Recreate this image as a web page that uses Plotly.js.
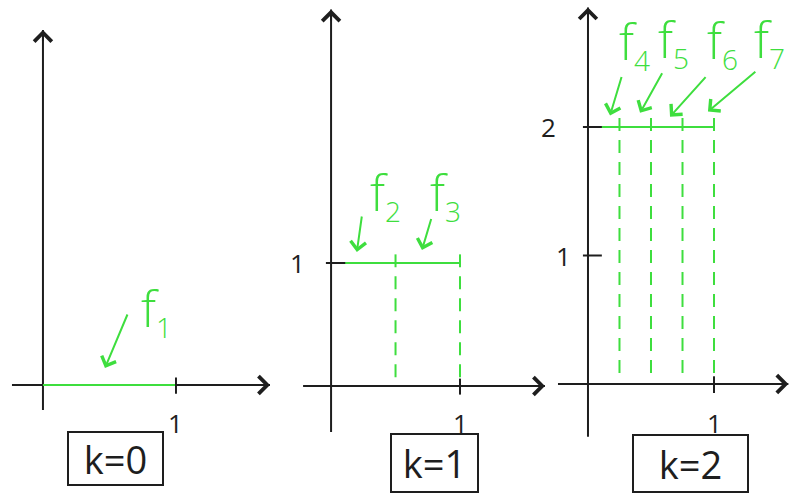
<!DOCTYPE html>
<html>
<head>
<meta charset="utf-8">
<script src="https://cdn.plot.ly/plotly-3.0.1.min.js"></script>
<style>html,body{margin:0;padding:0;background:#fff}#chart{width:790px;height:493px}</style>
</head>
<body>
<div id="chart"></div>
<script>
// step functions f1..f7 on [0,1], one panel per level k
const levels = ['k=0', 'k=1', 'k=2'];
const heights = [0, 1, 2];
const breaks0 = [0, 1];
const breaks1 = [0, 0.5, 1];
const breaks2 = [0, 0.25, 0.5, 0.75, 1];
const fnIndex0 = [1];
const fnIndex1 = [2, 3];
const fnIndex2 = [4, 5, 6, 7];
const yTicks0 = [];
const yTicks1 = [1];
const yTicks2 = [1, 2];
const xTicks = [1];

const ink = '#1e1e1e';
const green = '#3ede3e';
const hand = '"Open Sans", "DejaVu Sans", sans-serif';

// layout of each panel (domains, ranges, where labels sit) - tuned by eye
const panels = [
  { breaks: breaks0, h: heights[0], fns: fnIndex0, yticks: yTicks0, name: levels[0],
    xdom: [0, 0.3544], xr: [-0.323, 1.782], yr: [-0.864, 3.08],
    yAxis: [-0.2, 2.84], xAxis: [-0.233, 1.707], ylabX: [],
    lab: [[0.85, 0.6]], tail: [[0.64, 0.576]], head: [[0.466, 0.136]],
    box: [0.549, -0.584, 93, 51] },
  { breaks: breaks1, h: heights[1], fns: fnIndex1, yticks: yTicks1, name: levels[1],
    xdom: [0.3608, 0.6962], xr: [-0.357, 1.698], yr: [-0.870, 3.138],
    yAxis: [-0.374, 3.06], xAxis: [-0.217, 1.659], ylabX: [-0.264],
    lab: [[0.42, 1.56], [0.89, 1.56]], tail: [[0.24, 1.39], [0.78, 1.37]],
    head: [[0.2, 1.09], [0.705, 1.106]],
    box: [0.80, -0.626, 85, 56] },
  { breaks: breaks2, h: heights[2], fns: fnIndex2, yticks: yTicks2, name: levels[2],
    xdom: [0.6835, 1], xr: [-0.381, 1.603], yr: [-0.848, 2.988],
    yAxis: [-0.41, 2.93], xAxis: [-0.238, 1.59], ylabX: [-0.198, -0.317],
    lab: [[0.37, 2.65], [0.68, 2.67], [1.07, 2.66], [1.44, 2.67]],
    tail: [[0.27, 2.40], [0.595, 2.43], [0.944, 2.40], [1.34, 2.44]],
    head: [[0.175, 2.09], [0.413, 2.11], [0.651, 2.08], [0.952, 2.12]],
    box: [0.817, -0.62, 113, 55] }
];

const traces = [];
const shapes = [];
const annotations = [];
const layout = {
  width: 790, height: 493,
  margin: {l: 0, r: 0, t: 0, b: 0},
  paper_bgcolor: '#fff', plot_bgcolor: 'rgba(0,0,0,0)',
  showlegend: false
};

function arrow(xa, ya, from, to, color, size) {
  return {xref: xa, yref: ya, axref: xa, ayref: ya,
    x: to[0], y: to[1], ax: from[0], ay: from[1], text: '',
    showarrow: true, arrowhead: 4, arrowsize: size, arrowwidth: 2, arrowcolor: color};
}

panels.forEach((p, i) => {
  const n = i === 0 ? '' : String(i + 1);
  const xa = 'x' + n, ya = 'y' + n;
  const hidden = {showgrid: false, zeroline: false, showticklabels: false, showline: false, ticks: ''};
  layout['xaxis' + n] = Object.assign({domain: p.xdom, range: p.xr, anchor: ya, fixedrange: true}, hidden);
  layout['yaxis' + n] = Object.assign({domain: [0, 1], range: p.yr, anchor: xa, fixedrange: true}, hidden);

  // hand-drawn axes
  shapes.push({type: 'line', xref: xa, yref: ya, layer: 'below', x0: p.xAxis[0], x1: p.xAxis[1], y0: 0, y1: 0, line: {color: ink, width: 2}});
  shapes.push({type: 'line', xref: xa, yref: ya, layer: 'below', x0: 0, x1: 0, y0: p.yAxis[0], y1: p.yAxis[1], line: {color: ink, width: 2}});
  annotations.push(arrow(xa, ya, [p.xAxis[1] - 0.1, 0], [p.xAxis[1], 0], ink, 1.7));
  annotations.push(arrow(xa, ya, [0, p.yAxis[1] - 0.1], [0, p.yAxis[1]], ink, 1.7));

  xTicks.forEach(t => {
    shapes.push({type: 'line', xref: xa, yref: ya, x0: t, x1: t, y0: -0.07, y1: 0.06, line: {color: ink, width: 2}});
    annotations.push({xref: xa, yref: ya, x: t, y: -0.3, text: String(t), showarrow: false,
      font: {family: hand, size: 26, color: ink}});
  });
  p.yticks.forEach((t, j) => {
    shapes.push({type: 'line', xref: xa, yref: ya, x0: -0.04, x1: 0.11, y0: t, y1: t, line: {color: ink, width: 2}});
    annotations.push({xref: xa, yref: ya, x: p.ylabX[j], y: t, text: String(t), showarrow: false,
      font: {family: hand, size: 26, color: ink}});
  });

  // the step function itself
  traces.push({x: p.breaks, y: p.breaks.map(() => p.h), xaxis: xa, yaxis: ya,
    mode: 'lines', line: {color: green, width: 2}, hoverinfo: 'skip'});
  if (p.h > 0) {
    p.breaks.slice(1).forEach(b => {
      traces.push({x: [b, b], y: [p.h + 0.07, 0.04], xaxis: xa, yaxis: ya,
        mode: 'lines', line: {color: green, width: 2, dash: '13px,9px'}, hoverinfo: 'skip'});
    });
  }

  // f_i labels with arrows
  p.fns.forEach((idx, j) => {
    annotations.push({xref: xa, yref: ya, x: p.lab[j][0], y: p.lab[j][1],
      text: 'f<sub><span style="font-size:28px">' + idx + '</span></sub>', showarrow: false,
      font: {family: hand, size: 50, color: green, weight: 300}});
    annotations.push(arrow(xa, ya, p.tail[j], p.head[j], green, 1.5));
  });

  // boxed level label
  annotations.push({xref: xa, yref: ya, x: p.box[0], y: p.box[1], text: p.name, showarrow: false,
    width: p.box[2], height: p.box[3], borderpad: 0, bordercolor: ink, borderwidth: 2, bgcolor: '#fff',
    font: {family: hand, size: 38, color: ink}});
});

layout.shapes = shapes;
layout.annotations = annotations;

Plotly.newPlot('chart', traces, layout, {staticPlot: true, displayModeBar: false});
</script>
</body>
</html>
